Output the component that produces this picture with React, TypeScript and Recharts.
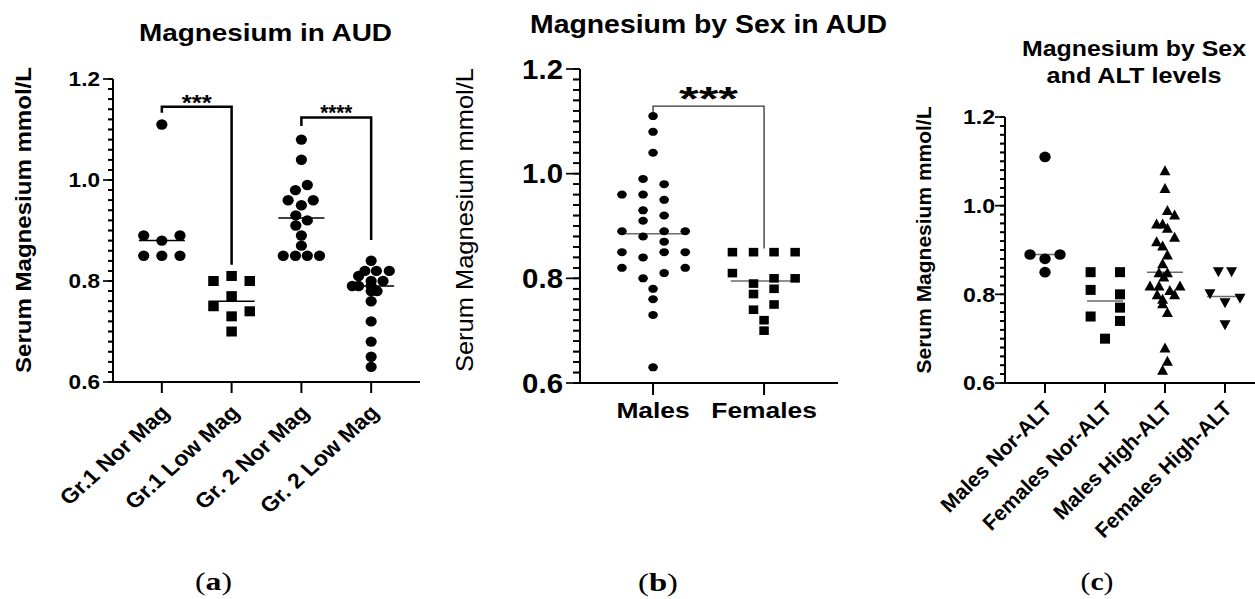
import React from 'react';
import { ScatterChart, Scatter, XAxis, YAxis, ReferenceLine } from 'recharts';

const FONT = "'Liberation Sans', Arial, Helvetica, sans-serif";
const SERIF = "'Liberation Serif', 'DejaVu Serif', serif";

// ---------- shared y ticks ----------
const yTicks = [0.6, 0.62, 0.64, 0.66, 0.68, 0.7, 0.72, 0.74, 0.76, 0.78, 0.8, 0.82, 0.84, 0.86, 0.88, 0.9, 0.92, 0.94, 0.96, 0.98, 1.0, 1.02, 1.04, 1.06, 1.08, 1.1, 1.12, 1.14, 1.16, 1.18, 1.2];
const yMajor = [0.6, 0.8, 1.0, 1.2];

// ---------- panel (a) ----------
const titleA = 'Magnesium in AUD';
const catsA = ['Gr.1 Nor Mag', 'Gr.1 Low Mag', 'Gr. 2 Nor Mag', 'Gr. 2 Low Mag'];
const gr1Nor = [1.11, 0.89, 0.89, 0.88, 0.85, 0.85, 0.85];
const gr1NorJit = [0, -0.26, 0.26, 0, -0.26, 0, 0.26];
const gr1Low = [0.81, 0.8, 0.8, 0.77, 0.75, 0.74, 0.73, 0.7];
const gr1LowJit = [0, -0.26, 0.26, 0, -0.26, 0.26, 0, 0];
const gr2Nor = [1.08, 1.04, 0.99, 0.98, 0.96, 0.96, 0.95, 0.93, 0.92, 0.91, 0.89, 0.87, 0.85, 0.85, 0.85, 0.85];
const gr2NorJit = [0, 0, 0.085, -0.085, -0.19, 0.17, 0, -0.08, 0.085, -0.08, 0, 0, -0.26, -0.085, 0.085, 0.26];
const gr2Low = [0.84, 0.82, 0.82, 0.82, 0.81, 0.8, 0.8, 0.79, 0.79, 0.79, 0.78, 0.78, 0.76, 0.72, 0.68, 0.65, 0.63];
const gr2LowJit = [0, -0.09, 0.075, 0.26, -0.18, 0, 0.17, -0.27, -0.18, 0, 0.085, 0, 0, 0, 0, 0, 0];
const mediansA = [0.88, 0.76, 0.925, 0.79];
const bracketA1X = [1, 1, 2, 2];
const bracketA1Y = [1.133, 1.145, 1.145, 0.832];
const bracketA2X = [3, 3, 4, 4];
const bracketA2Y = [1.107, 1.124, 1.124, 0.881];
const starsA1 = { x: 1.5, y: 1.145, text: '***' };
const starsA2 = { x: 3.5, y: 1.124, text: '****' };
const domainA = [0.3, 4.7];

// ---------- panel (b) ----------
const titleB = 'Magnesium by Sex in AUD';
const catsB = ['Males', 'Females'];
const males = [1.11, 1.08, 1.04, 0.99, 0.98, 0.96, 0.96, 0.95, 0.93, 0.92, 0.91, 0.89, 0.89, 0.89, 0.88, 0.87, 0.85, 0.85, 0.85, 0.84, 0.82, 0.82, 0.81, 0.8, 0.78, 0.76, 0.73, 0.63];
const malesJit = [0, 0, 0, -0.09, 0.1, -0.28, -0.09, 0.1, -0.09, 0.1, -0.09, -0.28, 0.1, 0.29, -0.09, 0.1, -0.28, 0.1, 0.29, -0.09, -0.28, 0.29, 0.1, -0.09, 0, 0, 0, 0];
const females = [0.85, 0.85, 0.85, 0.85, 0.81, 0.8, 0.8, 0.79, 0.78, 0.77, 0.75, 0.74, 0.72, 0.7];
const femalesJit = [-0.285, -0.095, 0.09, 0.28, -0.285, 0.09, 0.28, -0.095, 0.09, -0.095, 0.09, -0.095, 0, 0];
const mediansB = [0.885, 0.795];
const bracketBX = [1, 1, 2, 2];
const bracketBY = [1.118, 1.129, 1.129, 0.857];
const starsB = { x: 1.5, y: 1.129, text: '***' };
const domainB = [0.342, 2.666];

// ---------- panel (c) ----------
const titleC1 = 'Magnesium by Sex';
const titleC2 = 'and ALT levels';
const catsC = ['Males Nor-ALT', 'Females Nor-ALT', 'Males High-ALT', 'Females High-ALT'];
const malesNor = [1.11, 0.89, 0.89, 0.88, 0.85];
const malesNorJit = [0, -0.25, 0.25, 0, 0];
const femalesNor = [0.85, 0.85, 0.81, 0.8, 0.77, 0.75, 0.74, 0.7];
const femalesNorJit = [-0.24, 0.25, -0.24, 0.25, 0.25, -0.24, 0.25, 0];
const malesHigh = [1.08, 1.04, 0.99, 0.98, 0.96, 0.96, 0.95, 0.93, 0.92, 0.91, 0.89, 0.87, 0.85, 0.85, 0.84, 0.82, 0.82, 0.82, 0.81, 0.8, 0.8, 0.79, 0.78, 0.76, 0.68, 0.65, 0.63];
const malesHighJit = [0, 0, 0.04, 0.16, -0.14, -0.04, 0.04, 0.16, -0.14, -0.04, 0.04, -0.04, -0.1, 0.04, -0.02, -0.25, -0.1, 0.25, 0.08, -0.13, 0.16, -0.04, -0.04, 0.04, 0, 0.04, -0.04];
const femalesHigh = [0.85, 0.85, 0.8, 0.79, 0.78, 0.73];
const femalesHighJit = [-0.11, 0.11, -0.25, 0.25, 0, 0];
const mediansC = [0.89, 0.785, 0.85, 0.795];
const domainC = [0.333, 4.5];

const yLabel = 'Serum Magnesium mmol/L';

// ---------- helpers ----------
const isMajor = (v: number) => yMajor.some((m) => Math.abs(m - v) < 1e-6);
const pts = (g: number, vals: number[], jit: number[]) => vals.map((v, i) => ({ x: g + jit[i], y: v }));
const path = (xs: number[], ys: number[]) => xs.map((x, i) => ({ x, y: ys[i] }));

const ellipse = (rx: number, ry: number) => (p: any) => <ellipse cx={p.cx} cy={p.cy} rx={rx} ry={ry} fill="#000" />;
const square = (w: number, h: number) => (p: any) => <rect x={p.cx - w / 2} y={p.cy - h / 2} width={w} height={h} fill="#000" />;
const triUp = (w: number, h: number) => (p: any) => (
  <polygon points={`${p.cx - w / 2},${p.cy + h / 2} ${p.cx + w / 2},${p.cy + h / 2} ${p.cx},${p.cy - h / 2}`} fill="#000" />
);
const triDown = (w: number, h: number) => (p: any) => (
  <polygon points={`${p.cx - w / 2},${p.cy - h / 2} ${p.cx + w / 2},${p.cy - h / 2} ${p.cx},${p.cy + h / 2}`} fill="#000" />
);
const noShape = () => <g />;
const starShape = (text: string, size: number, len: number, dy: number) => (p: any) => (
  <text x={p.cx} y={p.cy + dy} textAnchor="middle" fontSize={size} fontWeight={700} fontFamily={FONT}
    textLength={len} lengthAdjust="spacingAndGlyphs" fill="#000">{text}</text>
);

const makeYTick = (cfg: any) => (props: any) => {
  const x = Number(props.x);
  const y = Number(props.y);
  const v = Number(props.payload.value);
  if (!isMajor(v)) return <text />;
  return (
    <text transform={`translate(${x - cfg.gap},${y + cfg.size * 0.355}) scale(${cfg.sx},1)`} textAnchor="end"
      fontSize={cfg.size} fontWeight={700} fontFamily={FONT} fill="#000" stroke="none">{v.toFixed(1)}</text>
  );
};

const makeRotTick = (cats: string[], cfg: any) => (props: any) => {
  const x = Number(props.x);
  const y = Number(props.y);
  const label = cats[Math.round(props.payload.value) - 1];
  return (
    <text transform={`translate(${x + cfg.dx},${y + cfg.dy}) scale(${cfg.sx},1) rotate(-45)`} textAnchor="end"
      fontSize={cfg.size} fontWeight={700} fontFamily={FONT} fill="#000" stroke="none">{label}</text>
  );
};

const makeFlatTick = (cats: string[], cfg: any) => (props: any) => {
  const x = Number(props.x);
  const y = Number(props.y);
  const label = cats[Math.round(props.payload.value) - 1];
  return (
    <text transform={`translate(${x},${y + cfg.dy}) scale(${cfg.sx},1)`} textAnchor="middle"
      fontSize={cfg.size} fontWeight={700} fontFamily={FONT} fill="#000" stroke="none">{label}</text>
  );
};

const VLabel = (props: any) => {
  const { lx, ly, len, size, weight, text } = props;
  return (
    <text transform={`translate(${lx},${ly}) rotate(-90)`} textAnchor="middle" dy="0.35em" fontSize={size}
      fontWeight={weight} fontFamily={FONT} textLength={len} lengthAdjust="spacingAndGlyphs" fill="#000">{text}</text>
  );
};

const axisLine = { stroke: '#000', strokeWidth: 2 };
const yTickLine = { stroke: '#000', strokeWidth: 1.7 };
const xTickLine = { stroke: '#000', strokeWidth: 2 };

const medianLines = (meds: number[], half: number, color: string, w: number) =>
  meds.map((m, i) => (
    <ReferenceLine key={`m${i}`} segment={[{ x: i + 1 - half, y: m }, { x: i + 1 + half, y: m }]} stroke={color} strokeWidth={w} />
  ));

// y tick marks drawn left of the axis (lengths given in x-data units)
const yTickMarks = (lo: number, majorLen: number, minorLen: number) =>
  yTicks.map((t, i) => (
    <ReferenceLine key={`t${i}`} ifOverflow="visible"
      segment={[{ x: lo - (isMajor(t) ? majorLen : minorLen), y: t }, { x: lo, y: t }]}
      stroke="#000" strokeWidth={1.7} />
  ));

const yAxisMain = (minorLen: number, tickCfg: any, label: any) => (
  <YAxis type="number" dataKey="y" domain={[0.6, 1.2]} ticks={yTicks} interval={0} width={1}
    tickSize={minorLen} tickMargin={0} tickLine={yTickLine} axisLine={axisLine}
    tick={makeYTick(tickCfg)} label={label} />
);

// ---------- charts ----------
const PanelA = () => (
  <ScatterChart width={430} height={585} margin={{ top: 79, right: 10, bottom: 8, left: 112 }}>
    <XAxis type="number" dataKey="x" domain={domainA} ticks={[1, 2, 3, 4]} interval={0}
      tickLine={xTickLine} tickSize={11} tickMargin={0} height={195} axisLine={axisLine}
      tick={makeRotTick(catsA, { dx: 9, dy: 21, size: 21, sx: 1.1 })} />
    {yAxisMain(5, { gap: 8, size: 20, sx: 1.13 }, <VLabel lx={23} ly={220} len={306} size={22} weight={700} text={yLabel} />)}
    {yTickMarks(domainA[0], 0.143, 0.072)}
    {medianLines(mediansA, 0.33, '#000', 1.5)}
    <Scatter data={pts(1, gr1Nor, gr1NorJit)} fill="#000" shape={ellipse(5.6, 5.2)} isAnimationActive={false} />
    <Scatter data={pts(2, gr1Low, gr1LowJit)} fill="#000" shape={square(10.5, 10)} isAnimationActive={false} />
    <Scatter data={pts(3, gr2Nor, gr2NorJit)} fill="#000" shape={ellipse(5.6, 5.2)} isAnimationActive={false} />
    <Scatter data={pts(4, gr2Low, gr2LowJit)} fill="#000" shape={ellipse(5.6, 5.2)} isAnimationActive={false} />
    <Scatter data={path(bracketA1X, bracketA1Y)} fill="#000" line={{ stroke: '#000', strokeWidth: 2.5 }} shape={noShape} isAnimationActive={false} />
    <Scatter data={path(bracketA2X, bracketA2Y)} fill="#000" line={{ stroke: '#000', strokeWidth: 2.5 }} shape={noShape} isAnimationActive={false} />
    <Scatter data={[{ x: starsA1.x, y: starsA1.y }]} fill="#000" shape={starShape(starsA1.text, 22, 30, 3.4)} isAnimationActive={false} />
    <Scatter data={[{ x: starsA2.x, y: starsA2.y }]} fill="#000" shape={starShape(starsA2.text, 22, 32, 2.2)} isAnimationActive={false} />
  </ScatterChart>
);

const PanelB = () => (
  <ScatterChart width={410} height={585} margin={{ top: 69, right: 12, bottom: 7, left: 139 }}>
    <XAxis type="number" dataKey="x" domain={domainB} ticks={[1, 2]} interval={0}
      tickLine={xTickLine} tickSize={12} tickMargin={0} height={195} axisLine={axisLine}
      tick={makeFlatTick(catsB, { dy: 23, size: 22, sx: 1.2 })} />
    {yAxisMain(7, { gap: 10, size: 27, sx: 1.09 }, <VLabel lx={25} ly={220} len={304} size={24} weight={400} text={yLabel} />)}
    {yTickMarks(domainB[0], 0.126, 0.063)}
    {medianLines(mediansB, 0.3, '#6a6a6a', 1.5)}
    <Scatter data={pts(1, males, malesJit)} fill="#000" shape={ellipse(4.8, 4.0)} isAnimationActive={false} />
    <Scatter data={pts(2, females, femalesJit)} fill="#000" shape={square(9.5, 8.6)} isAnimationActive={false} />
    <Scatter data={path(bracketBX, bracketBY)} fill="#333" line={{ stroke: '#333', strokeWidth: 1.3 }} shape={noShape} isAnimationActive={false} />
    <Scatter data={[{ x: starsB.x, y: starsB.y }]} fill="#000" shape={starShape(starsB.text, 34, 59, 3.5)} isAnimationActive={false} />
  </ScatterChart>
);

const PanelC = () => (
  <ScatterChart width={375} height={585} margin={{ top: 117, right: 0, bottom: 7, left: 124 }}>
    <XAxis type="number" dataKey="x" domain={domainC} ticks={[1, 2, 3, 4]} interval={0}
      tickLine={xTickLine} tickSize={10} tickMargin={0} height={195} axisLine={axisLine}
      tick={makeRotTick(catsC, { dx: 8, dy: 17, size: 21, sx: 1.0 })} />
    {yAxisMain(5, { gap: 5, size: 21, sx: 1.1 }, <VLabel lx={44} ly={240} len={267} size={20} weight={700} text={yLabel} />)}
    {yTickMarks(domainC[0], 0.167, 0.083)}
    {medianLines(mediansC, 0.3, '#6a6a6a', 1.5)}
    <Scatter data={pts(1, malesNor, malesNorJit)} fill="#000" shape={ellipse(5.7, 5.3)} isAnimationActive={false} />
    <Scatter data={pts(2, femalesNor, femalesNorJit)} fill="#000" shape={square(10, 10)} isAnimationActive={false} />
    <Scatter data={pts(3, malesHigh, malesHighJit)} fill="#000" shape={triUp(11, 10)} isAnimationActive={false} />
    <Scatter data={pts(4, femalesHigh, femalesHighJit)} fill="#000" shape={triDown(11, 10)} isAnimationActive={false} />
  </ScatterChart>
);

const textStyle = { fontFamily: FONT, fontWeight: 700 as const };

export default function App() {
  return (
    <div style={{ position: 'absolute', left: 0, top: 0, width: 1255, height: 599, background: '#fff', overflow: 'hidden' }}>
      <div style={{ position: 'absolute', left: 0, top: 0 }}><PanelA /></div>
      <div style={{ position: 'absolute', left: 440, top: 0 }}><PanelB /></div>
      <div style={{ position: 'absolute', left: 880, top: 0 }}><PanelC /></div>
      <svg width={1255} height={599} style={{ position: 'absolute', left: 0, top: 0, pointerEvents: 'none' }}>
        <text x={265.5} y={41} textAnchor="middle" fontSize={24} textLength={253} lengthAdjust="spacingAndGlyphs" {...textStyle}>{titleA}</text>
        <text x={708.5} y={33} textAnchor="middle" fontSize={25} textLength={357} lengthAdjust="spacingAndGlyphs" {...textStyle}>{titleB}</text>
        <text x={1134} y={56} textAnchor="middle" fontSize={22} textLength={224} lengthAdjust="spacingAndGlyphs" {...textStyle}>{titleC1}</text>
        <text x={1134} y={83} textAnchor="middle" fontSize={22} textLength={175} lengthAdjust="spacingAndGlyphs" {...textStyle}>{titleC2}</text>
        <text x={213.5} y={590} textAnchor="middle" fontSize={26} fontFamily={SERIF} textLength={37} lengthAdjust="spacingAndGlyphs">(<tspan fontWeight={700}>a</tspan>)</text>
        <text x={658} y={591} textAnchor="middle" fontSize={26} fontFamily={SERIF} textLength={40} lengthAdjust="spacingAndGlyphs">(<tspan fontWeight={700}>b</tspan>)</text>
        <text x={1097} y={590} textAnchor="middle" fontSize={26} fontFamily={SERIF} textLength={33} lengthAdjust="spacingAndGlyphs">(<tspan fontWeight={700}>c</tspan>)</text>
      </svg>
    </div>
  );
}
